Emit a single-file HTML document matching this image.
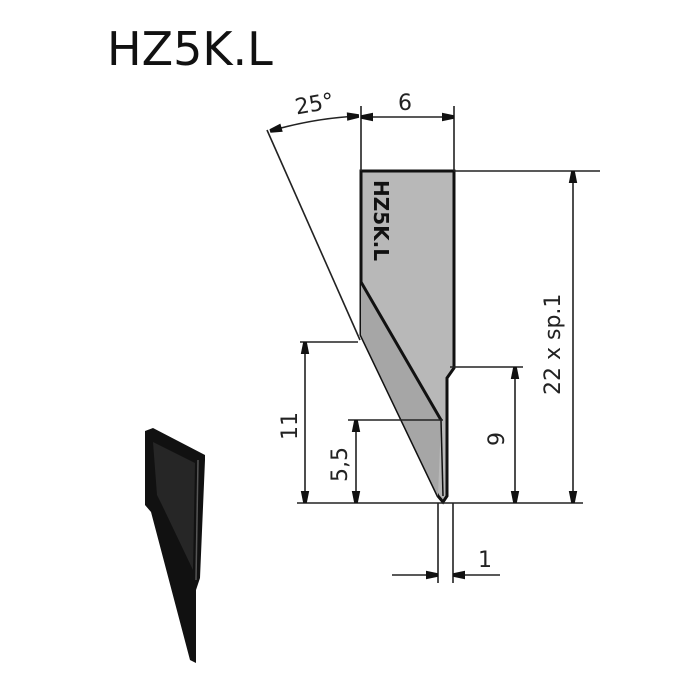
<!DOCTYPE html>
<html><head><style>
html,body{margin:0;padding:0;background:#fff;}
svg{display:block}
text{font-family:"DejaVu Sans","Liberation Sans",sans-serif;fill:#222}
</style></head><body>
<svg width="700" height="700" viewBox="0 0 700 700" xmlns="http://www.w3.org/2000/svg">
<defs>
<marker id="a" viewBox="0 0 10 10" refX="10" refY="5" markerWidth="18" markerHeight="12" markerUnits="userSpaceOnUse" orient="auto-start-reverse">
<path d="M0,1.5 L10,3.5 L10,6.5 L0,8.5 Z" fill="#111"/>
</marker>
</defs>
<text x="107" y="65" font-size="46" style="fill:#111">HZ5K.L</text>

<!-- blade -->
<polygon points="361,171 454,171 454,368 447,378 447,496 443,502 438,496 361,335" fill="#b8b8b8" stroke="#111" stroke-width="3"/>
<polygon points="361,282 361,335 438,496 441,420" fill="#a6a6a6"/>
<line x1="361" y1="282" x2="441" y2="420" stroke="#111" stroke-width="3"/>
<line x1="441" y1="420" x2="443" y2="496" stroke="#111" stroke-width="1.5"/>
<text x="0" y="0" font-size="20" font-weight="bold" transform="translate(374,180) rotate(90)" style="fill:#111">HZ5K.L</text>

<g stroke="#222" stroke-width="1.6" fill="none">
<!-- 25 deg -->
<line x1="267" y1="130" x2="360" y2="340"/>
<path d="M270,131 Q315,118 359,116" marker-start="url(#a)" marker-end="url(#a)"/>
<!-- 6 -->
<line x1="361" y1="171" x2="361" y2="106"/>
<line x1="454" y1="171" x2="454" y2="106"/>
<line x1="361" y1="117" x2="454" y2="117" marker-start="url(#a)" marker-end="url(#a)"/>
<!-- baseline -->
<line x1="297" y1="503" x2="583" y2="503"/>
<!-- 11 -->
<line x1="300" y1="342" x2="358" y2="342"/>
<line x1="305" y1="342" x2="305" y2="503" marker-start="url(#a)" marker-end="url(#a)"/>
<!-- 5,5 -->
<line x1="348" y1="420" x2="443" y2="420"/>
<line x1="356" y1="420" x2="356" y2="503" marker-start="url(#a)" marker-end="url(#a)"/>
<!-- 9 -->
<line x1="450" y1="367" x2="523" y2="367"/>
<line x1="515" y1="367" x2="515" y2="503" marker-start="url(#a)" marker-end="url(#a)"/>
<!-- 22 -->
<line x1="454" y1="171" x2="600" y2="171"/>
<line x1="573" y1="171" x2="573" y2="503" marker-start="url(#a)" marker-end="url(#a)"/>
<!-- 1 -->
<line x1="438" y1="503" x2="438" y2="583"/>
<line x1="453" y1="503" x2="453" y2="583"/>
<line x1="392" y1="575" x2="438" y2="575" marker-end="url(#a)"/>
<line x1="500" y1="575" x2="453" y2="575" marker-end="url(#a)"/>
</g>

<text x="295" y="112" font-size="22" transform="rotate(-10 310 105)">25°</text>
<text x="398" y="110" font-size="22">6</text>
<text x="0" y="0" font-size="22" transform="translate(297,440) rotate(-90)">11</text>
<text x="0" y="0" font-size="22" transform="translate(347,482) rotate(-90)">5,5</text>
<text x="0" y="0" font-size="22" transform="translate(504,446) rotate(-90)">9</text>
<text x="0" y="0" font-size="22" transform="translate(560,395) rotate(-90)">22 x sp.1</text>
<text x="478" y="567" font-size="22">1</text>

<!-- small 3D blade -->
<polygon points="145,431 153,428 205,455 205,460 200,578 196,590 196,663 190,660 151,512 145,505" fill="#111"/>
<polygon points="153,442 195,463 193,570 162,505 157,495" fill="#262626"/>
<line x1="198" y1="460" x2="196" y2="580" stroke="#555" stroke-width="1.5"/>
</svg>
</body></html>
